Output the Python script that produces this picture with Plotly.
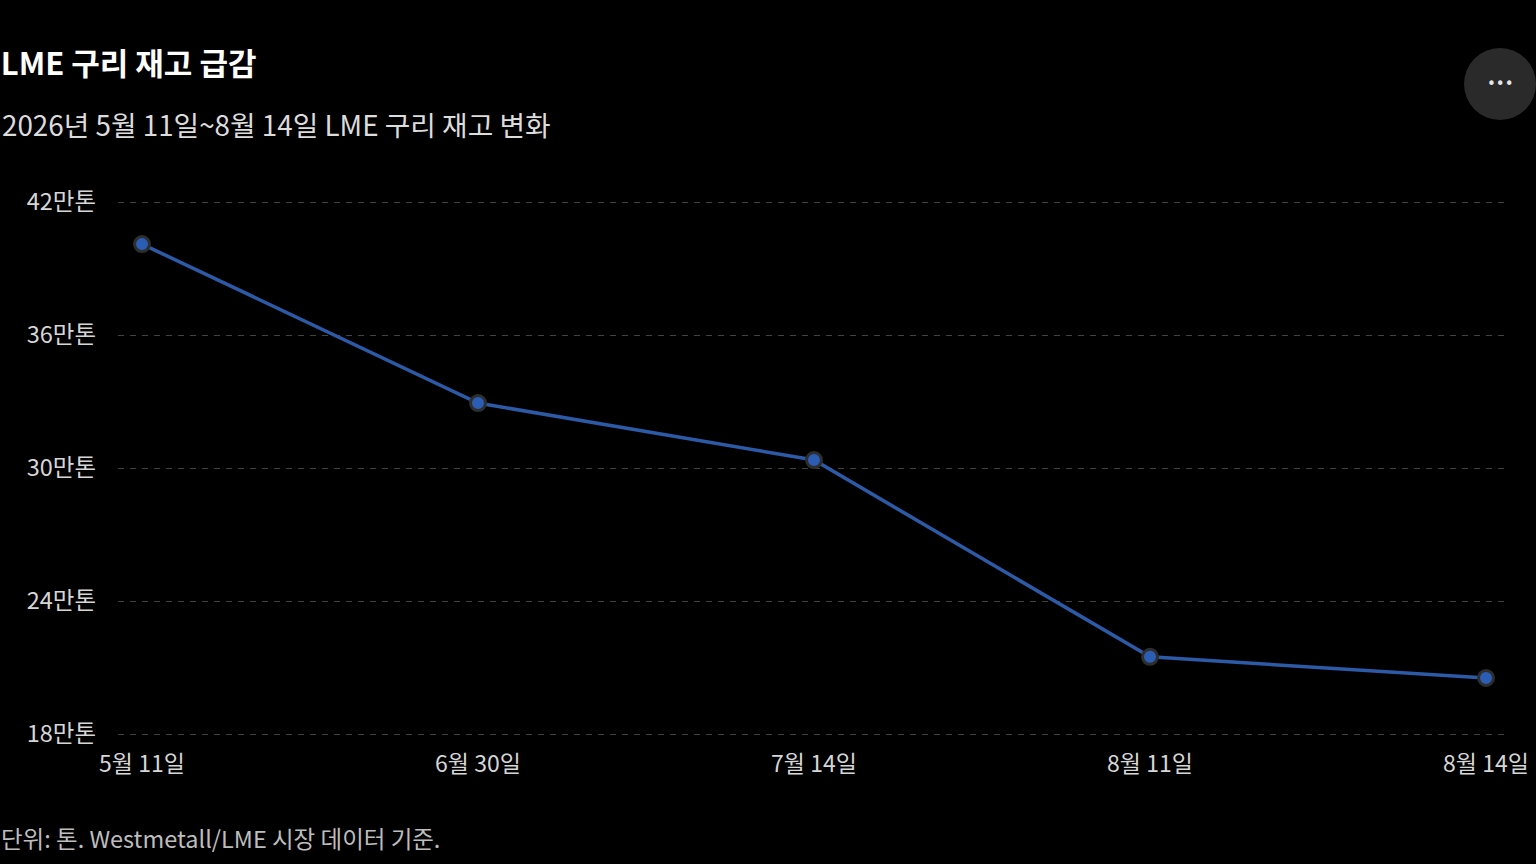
import plotly.graph_objects as go

# LME 구리 재고 (톤)
dates = ["5월 11일", "6월 30일", "7월 14일", "8월 11일", "8월 14일"]
stocks = [401000, 329300, 303600, 214800, 205300]

y_ticks = [180000, 240000, 300000, 360000, 420000]
y_labels = ["18만톤", "24만톤", "30만톤", "36만톤", "42만톤"]

FONT = "Noto Sans CJK KR, Noto Sans, sans-serif"

# plot area in pixels (a few px of padding so the 18/42 gridlines show)
PAD = 5
L, R, T, B = 118, 32, 202 - PAD, 130 - PAD
W, H = 1536 - L - R, 864 - T - B
per_px = 240000 / 532


def px_x(x):
    return (x - L) / W


def px_y(y):
    return (864 - B - y) / H


fig = go.Figure()
fig.add_trace(go.Scatter(
    x=list(range(len(dates))),
    y=stocks,
    mode="lines+markers",
    line=dict(color="#2c5aa6", width=3.5),
    marker=dict(size=15, color="#2b5db5", line=dict(color="#2e2e2e", width=3)),
    hoverinfo="skip",
    cliponaxis=False,
))

fig.update_layout(
    width=1536,
    height=864,
    paper_bgcolor="#000000",
    plot_bgcolor="#000000",
    margin=dict(l=L, r=R, t=T, b=B),
    showlegend=False,
    font=dict(family=FONT, color="#d6d6d6", size=22),
    title=dict(
        text="<b>LME 구리 재고 급감</b>",
        font=dict(family=FONT, size=31, color="#ffffff"),
        xref="container", x=0.0005, xanchor="left",
        yref="container", y=1 - 64 / 864, yanchor="middle",
    ),
)

fig.update_xaxes(
    tickvals=list(range(len(dates))),
    ticktext=dates,
    range=[-24 / 336, 4 + 18 / 336],
    showgrid=False,
    zeroline=False,
    showline=False,
    ticks="",
    automargin=False,
    ticklabelstandoff=9,
    tickfont=dict(size=23, color="#d6d6d6"),
)

fig.update_yaxes(
    tickvals=y_ticks,
    ticktext=y_labels,
    range=[180000 - PAD * per_px, 420000 + PAD * per_px],
    showgrid=True,
    gridcolor="#424242",
    gridwidth=1,
    griddash="6px,6px",
    zeroline=False,
    showline=False,
    ticks="",
    automargin=False,
    ticklabelstandoff=21,
    tickfont=dict(size=23.5, color="#d6d6d6"),
)

fig.add_annotation(
    text="2026년 5월 11일~8월 14일 LME 구리 재고 변화",
    xref="paper", yref="paper", x=px_x(0), y=px_y(124),
    xanchor="left", yanchor="middle", showarrow=False,
    font=dict(family=FONT, size=27.8, color="#dcdcdc"),
)

fig.add_annotation(
    text="단위: 톤. Westmetall/LME 시장 데이터 기준.",
    xref="paper", yref="paper", x=px_x(-1), y=px_y(838),
    xanchor="left", yanchor="middle", showarrow=False,
    font=dict(family=FONT, size=23.5, color="#bdbdbd"),
)

# menu button top right
fig.add_shape(
    type="circle", xref="paper", yref="paper",
    xsizemode="pixel", ysizemode="pixel",
    xanchor=px_x(1500), yanchor=px_y(84),
    x0=-36, x1=36, y0=-36, y1=36,
    fillcolor="#2a2a2a", line=dict(width=0),
)
fig.add_annotation(
    text="•••",
    xref="paper", yref="paper", x=px_x(1500), y=px_y(84),
    xanchor="center", yanchor="middle", showarrow=False,
    font=dict(family="DejaVu Sans", size=15, color="#e6e6e6"),
)

fig.write_html(
    "out.html",
    config={"displayModeBar": False},
    post_script="document.body.style.margin='0';document.body.style.background='#000';",
)
